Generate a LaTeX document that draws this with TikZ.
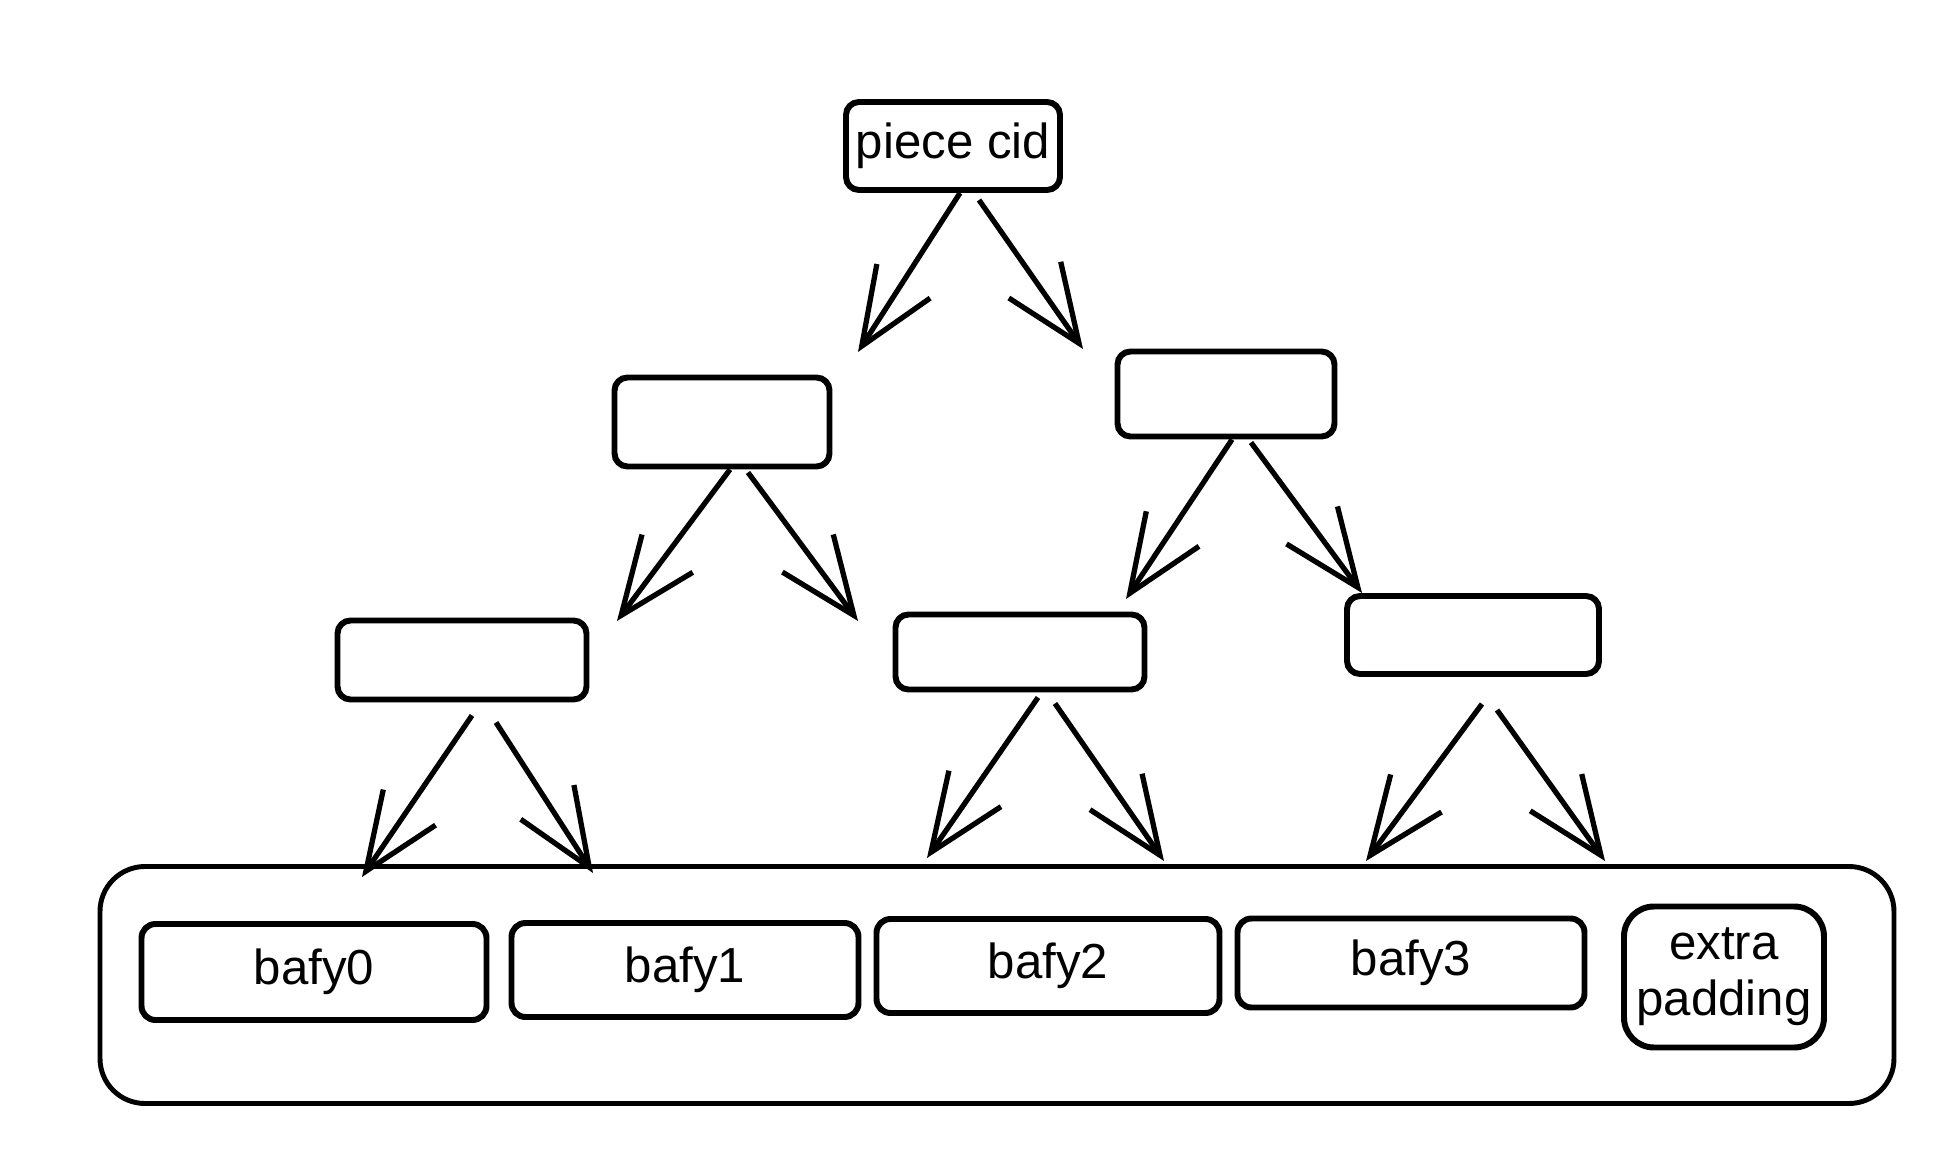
\documentclass[tikz,border=0pt]{standalone}
\usepackage{fontspec}
\setmainfont{Liberation Sans}
\usetikzlibrary{positioning,arrows.meta,calc}

\begin{document}
\begin{tikzpicture}[
    thick,
    hashbox/.style={rectangle, rounded corners=1.3mm, draw=black, line width=1.7pt, inner sep=0pt, font=\fontsize{14}{16}\selectfont},
    leafbox/.style={rectangle, rounded corners=1.4mm, draw=black, line width=1.7pt, inner sep=0pt, font=\fontsize{14}{16}\selectfont},
    container/.style={rectangle, rounded corners=4.5mm, draw=black, line width=1.4pt, minimum width=17.94cm, minimum height=2.37cm},
    link/.style={line width=1.5pt, -{Straight Barb[length=22pt, width=18pt]}}
]
  \useasboundingbox (0,0) rectangle (19.56,11.68);

  \node[container] (piece) at (9.97,1.83) {};

  \node[hashbox, minimum width=2.14cm, minimum height=0.88cm] (cid) at (9.53,10.22) {piece cid};
  \node[hashbox, minimum width=2.15cm, minimum height=0.89cm] (h10) at (7.22,7.46) {};
  \node[hashbox, minimum width=2.17cm, minimum height=0.85cm] (h11) at (12.26,7.74) {};
  \node[hashbox, minimum width=2.49cm, minimum height=0.79cm] (h20) at (4.62,5.08) {};
  \node[hashbox, minimum width=2.49cm, minimum height=0.75cm] (h21) at (10.20,5.16) {};
  \node[hashbox, minimum width=2.52cm, minimum height=0.78cm] (h22) at (14.73,5.33) {};

  \node[leafbox, minimum width=3.45cm, minimum height=0.96cm] (bafy0) at (3.14,1.96) {bafy0};
  \node[leafbox, minimum width=3.47cm, minimum height=0.94cm] (bafy1) at (6.85,1.98) {bafy1};
  \node[leafbox, minimum width=3.43cm, minimum height=0.94cm] (bafy2) at (10.48,2.02) {bafy2};
  \node[leafbox, minimum width=3.47cm, minimum height=0.89cm] (bafy3) at (14.11,2.05) {bafy3};
  \node[leafbox, rounded corners=3mm, align=center, minimum width=2.00cm, minimum height=1.41cm] (padding) at (17.24,1.91) {extra\\padding};

  \coordinate (t1) at (8.58,8.16);
  \coordinate (t2) at (10.83,8.19);
  \coordinate (t3) at (6.17,5.47);
  \coordinate (t4) at (8.58,5.47);
  \coordinate (t5) at (11.26,5.69);
  \coordinate (t6) at (13.62,5.75);
  \coordinate (t7) at (3.62,2.91);
  \coordinate (t8) at (5.93,2.95);
  \coordinate (t9) at (9.27,3.10);
  \coordinate (t10) at (11.64,3.07);
  \coordinate (t11) at (13.66,3.07);
  \coordinate (t12) at (16.05,3.07);

  \draw[link] ([xshift=0.07cm]cid.south) -- (t1);
  \draw[link] ([xshift=0.26cm, yshift=-0.07cm]cid.south) -- (t2);
  \draw[link] ([xshift=0.08cm]h10.south) -- (t3);
  \draw[link] ([xshift=0.26cm, yshift=-0.03cm]h10.south) -- (t4);
  \draw[link] ([xshift=0.06cm]h11.south) -- (t5);
  \draw[link] ([xshift=0.25cm, yshift=-0.03cm]h11.south) -- (t6);
  \draw[link] ([xshift=0.10cm, yshift=-0.13cm]h20.south) -- (t7);
  \draw[link] ([xshift=0.34cm, yshift=-0.20cm]h20.south) -- (t8);
  \draw[link] ([xshift=0.18cm, yshift=-0.05cm]h21.south) -- (t9);
  \draw[link] ([xshift=0.35cm, yshift=-0.11cm]h21.south) -- (t10);
  \draw[link] ([xshift=0.09cm, yshift=-0.27cm]h22.south) -- (t11);
  \draw[link] ([xshift=0.24cm, yshift=-0.33cm]h22.south) -- (t12);
\end{tikzpicture}
\end{document}
